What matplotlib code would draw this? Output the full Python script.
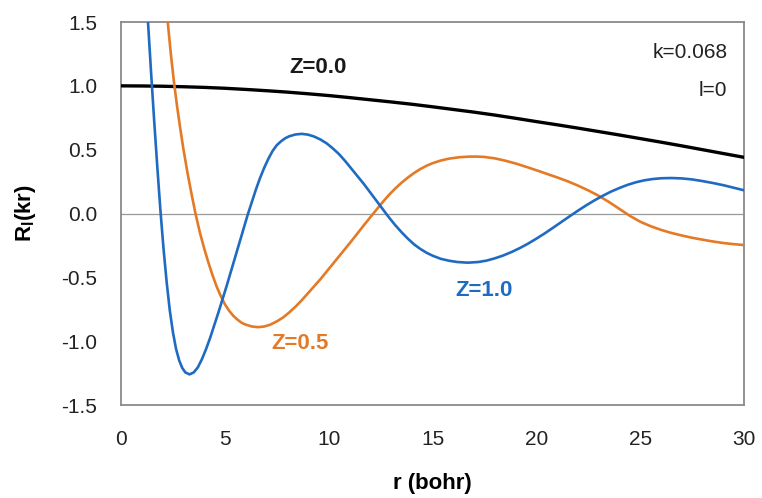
import matplotlib
matplotlib.use("Agg")
import matplotlib.pyplot as plt

plt.rcParams['font.family'] = ['Liberation Sans', 'DejaVu Sans']
plt.rcParams['mathtext.fontset'] = 'custom'
plt.rcParams['mathtext.rm'] = 'Liberation Sans'
plt.rcParams['mathtext.bf'] = 'Liberation Sans:bold'

# radial functions R_l(kr), k=0.068, l=0
r_z0 = [0, 1, 2, 3, 4, 5, 6, 7, 8, 9, 10, 11, 12, 13, 14, 15, 16, 17, 18,
        19, 20, 21, 22, 23, 24, 25, 26, 27, 28, 29, 30]
R_z0 = [1.0, 0.999, 0.997, 0.993, 0.988, 0.981, 0.972, 0.962, 0.951, 0.938,
        0.924, 0.908, 0.891, 0.874, 0.856, 0.836, 0.815, 0.794, 0.771, 0.746,
        0.720, 0.695, 0.669, 0.642, 0.615, 0.587, 0.559, 0.530, 0.500, 0.470,
        0.440]

r_z05 = [2.1, 2.25, 2.4, 2.55, 2.7, 2.85, 3.0, 3.2, 3.4, 3.6, 3.8, 4.0, 4.2,
         4.4, 4.6, 4.8, 5.0, 5.2, 5.4, 5.6, 5.8, 6.0, 6.3, 6.6, 6.9, 7.2, 7.5,
         7.8, 8.1, 8.4, 8.7, 9.0, 9.3, 9.6, 9.9, 10.2, 10.5, 10.8, 11.1, 11.4,
         11.7, 12.0, 12.3, 12.6, 12.9, 13.2, 13.5, 13.8, 14.1, 14.4, 14.7,
         15.0, 15.4, 15.8, 16.3, 16.8, 17.1, 17.5, 18.0, 18.5, 19.0, 19.5,
         20.0, 20.5, 21.0, 21.5, 22.0, 22.5, 23.0, 23.5, 24.0, 24.5, 25.0,
         25.5, 26.0, 26.5, 27.0, 27.5, 28.0, 28.5, 29.0, 29.5, 30.0]
R_z05 = [1.80, 1.5, 1.25, 1.03, 0.84, 0.67, 0.51, 0.32, 0.15, -0.01, -0.15,
         -0.27, -0.38, -0.48, -0.57, -0.645, -0.71, -0.76, -0.80, -0.83,
         -0.855, -0.87, -0.885, -0.89, -0.885, -0.87, -0.845, -0.815, -0.775,
         -0.73, -0.68, -0.625, -0.57, -0.515, -0.455, -0.395, -0.335, -0.275,
         -0.215, -0.153, -0.091, -0.03, 0.03, 0.089, 0.145, 0.195, 0.24,
         0.28, 0.316, 0.347, 0.373, 0.394, 0.415, 0.43, 0.441, 0.446, 0.446,
         0.443, 0.432, 0.414, 0.392, 0.366, 0.339, 0.311, 0.283, 0.253,
         0.219, 0.181, 0.139, 0.090, 0.036, -0.018, -0.064, -0.099, -0.128,
         -0.152, -0.172, -0.19, -0.205, -0.219, -0.231, -0.24, -0.247]

r_z1 = [1.15, 1.3, 1.45, 1.6, 1.75, 1.9, 2.05, 2.2, 2.35, 2.5, 2.65, 2.8,
        2.95, 3.1, 3.3, 3.5, 3.7, 3.9, 4.1, 4.3, 4.5, 4.7, 4.9, 5.1, 5.3,
        5.5, 5.7, 5.9, 6.1, 6.3, 6.5, 6.7, 6.9, 7.1, 7.3, 7.5, 7.7, 7.9,
        8.1, 8.4, 8.7, 9.0, 9.3, 9.6, 9.9, 10.2, 10.5, 10.8, 11.1, 11.4,
        11.7, 12.0, 12.3, 12.6, 12.9, 13.2, 13.5, 13.8, 14.1, 14.4, 14.7,
        15.0, 15.4, 15.8, 16.2, 16.7, 17.2, 17.6, 18.0, 18.4, 18.8, 19.2,
        19.6, 20.0, 20.4, 20.8, 21.2, 21.6, 22.0, 22.4, 22.8, 23.2, 23.6,
        24.0, 24.4, 24.8, 25.2, 25.6, 26.0, 26.5, 27.0, 27.5, 28.0, 28.5,
        29.0, 29.5, 30.0]
R_z1 = [1.90, 1.50, 1.10, 0.72, 0.36, 0.02, -0.28, -0.54, -0.76, -0.93,
        -1.06, -1.15, -1.21, -1.245, -1.26, -1.245, -1.205, -1.14, -1.06,
        -0.97, -0.87, -0.77, -0.665, -0.56, -0.45, -0.34, -0.23, -0.12,
        -0.01, 0.09, 0.19, 0.28, 0.36, 0.43, 0.49, 0.535, 0.565, 0.589,
        0.605, 0.619, 0.624, 0.618, 0.603, 0.58, 0.55, 0.51, 0.465, 0.41,
        0.35, 0.29, 0.23, 0.165, 0.10, 0.035, -0.03, -0.09, -0.145, -0.195,
        -0.24, -0.276, -0.306, -0.33, -0.355, -0.37, -0.38, -0.385, -0.38,
        -0.369, -0.351, -0.329, -0.302, -0.271, -0.236, -0.197, -0.156,
        -0.112, -0.067, -0.022, 0.022, 0.064, 0.103, 0.139, 0.172, 0.20,
        0.225, 0.245, 0.26, 0.27, 0.276, 0.278, 0.275, 0.267, 0.254, 0.239,
        0.222, 0.202, 0.182]

fig = plt.figure(figsize=(7.62, 4.98), dpi=100)
ax = fig.add_axes([0.1588, 0.1867, 0.8176, 0.7691])

ax.axhline(0, color='#999999', lw=0.9, zorder=1)
ax.plot(r_z0, R_z0, color='black', lw=2.4, zorder=3)
ax.plot(r_z05, R_z05, color='#e57a26', lw=1.9, zorder=3)
ax.plot(r_z1, R_z1, color='#1f6bc2', lw=1.9, zorder=4)

ax.set_xlim(0, 30)
ax.set_ylim(-1.5, 1.5)
ax.set_xticks([0, 5, 10, 15, 20, 25, 30])
ax.set_yticks([-1.5, -1.0, -0.5, 0.0, 0.5, 1.0, 1.5])
ax.set_yticklabels(['-1.5', '-1.0', '-0.5', '0.0', '0.5', '1.0', '1.5'])
ax.tick_params(length=0, labelsize=15, colors='#222222')
ax.tick_params(axis='y', pad=17)
ax.tick_params(axis='x', pad=18)
for s in ax.spines.values():
    s.set_color('#8a8a8a')
    s.set_linewidth(1.3)

ax.set_xlabel('r (bohr)', fontsize=16, fontweight='bold', labelpad=17)
ax.set_ylabel(r'R$_\mathbf{l}$(kr)', fontsize=16, fontweight='bold', labelpad=17)

ax.text(9.5, 1.14, 'Z=0.0', fontsize=16, fontweight='bold', color='#1a1a1a',
        ha='center', va='center')
ax.text(17.5, -0.60, 'Z=1.0', fontsize=16, fontweight='bold', color='#1f6bc2',
        ha='center', va='center')
ax.text(8.6, -1.02, 'Z=0.5', fontsize=16, fontweight='bold', color='#e57a26',
        ha='center', va='center')
ax.text(29.2, 1.26, 'k=0.068', fontsize=15, color='#222222', ha='right', va='center')
ax.text(29.2, 0.96, 'l=0', fontsize=15, color='#222222', ha='right', va='center')

fig.savefig('out.png', dpi=100)
